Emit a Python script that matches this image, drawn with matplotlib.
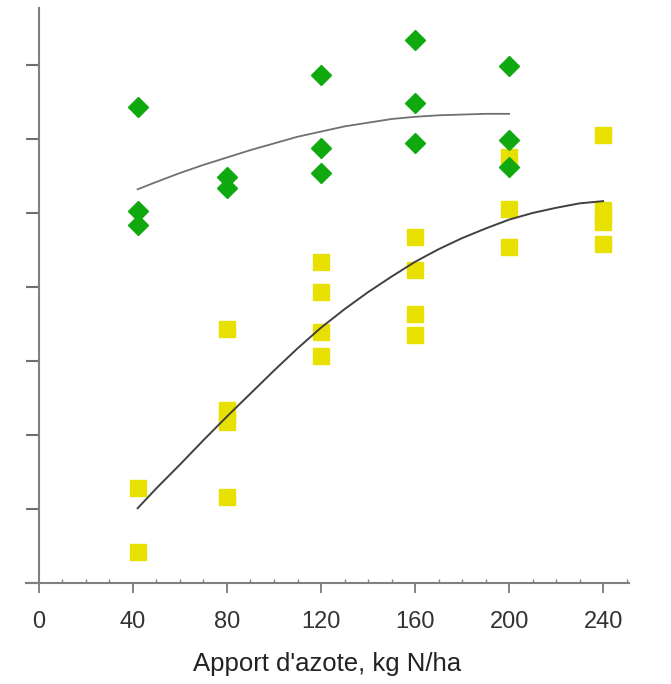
import matplotlib
matplotlib.use("Agg")
import matplotlib.pyplot as plt
from matplotlib.ticker import MultipleLocator, NullFormatter

plt.rcParams['font.family'] = ['Liberation Sans', 'DejaVu Sans']

# Green diamonds (one group per nitrogen rate)
green_x = [42, 42, 42, 80, 80, 120, 120, 120, 160, 160, 160, 200, 200, 200]
green_y = [6.43, 5.03, 4.84, 5.49, 5.34, 6.86, 5.88, 5.54, 7.34, 6.49, 5.95, 6.99, 5.99, 5.62]

# Yellow squares
yellow_x = [42, 42, 80, 80, 80, 80, 120, 120, 120, 120,
            160, 160, 160, 160, 200, 200, 200, 240, 240, 240, 240]
yellow_y = [1.28, 0.42, 3.43, 2.34, 2.18, 1.16, 4.34, 3.93, 3.39, 3.07,
            4.68, 4.23, 3.64, 3.35, 5.76, 5.05, 4.54, 6.05, 5.04, 4.88, 4.58]

# Fitted response curves
green_fit_x = [42, 50, 60, 70, 80, 90, 100, 110, 120, 130, 140, 150, 160, 170, 180, 190, 200]
green_fit_y = [5.32, 5.42, 5.54, 5.65, 5.75, 5.85, 5.94, 6.03, 6.10, 6.17, 6.22, 6.27,
               6.30, 6.32, 6.33, 6.34, 6.34]
yellow_fit_x = [42, 50, 60, 70, 80, 90, 100, 110, 120, 130, 140, 150, 160, 170, 180,
                190, 200, 210, 220, 230, 240]
yellow_fit_y = [1.01, 1.28, 1.60, 1.93, 2.25, 2.56, 2.87, 3.17, 3.45, 3.70, 3.93, 4.14,
                4.34, 4.51, 4.66, 4.79, 4.91, 5.00, 5.07, 5.13, 5.16]

xticks = [0, 40, 80, 120, 160, 200, 240]
xlabel = "Apport d'azote, kg N/ha"

fig = plt.figure(figsize=(6.71, 6.84), dpi=100)
ax = fig.add_axes([0.0387, 0.1477, 0.8987, 0.8406])

ax.plot(yellow_x, yellow_y, linestyle='none', marker='s', markersize=12,
        color='#e8e000', markeredgecolor='#e8e000', zorder=2)
ax.plot(green_x, green_y, linestyle='none', marker='D', markersize=10,
        color='#10aa10', markeredgecolor='#10aa10', zorder=3)
ax.plot(green_fit_x, green_fit_y, color='#707070', linewidth=1.3, zorder=4)
ax.plot(yellow_fit_x, yellow_fit_y, color='#404040', linewidth=1.4, zorder=4)

ax.set_xlim(-5.5, 251)
ax.set_ylim(0, 7.77)

for side in ['top', 'right']:
    ax.spines[side].set_visible(False)
ax.spines['left'].set_position(('data', 0))
for side in ['left', 'bottom']:
    ax.spines[side].set_color('#808080')
    ax.spines[side].set_linewidth(1.5)

ax.set_xticks(xticks)
ax.xaxis.set_minor_locator(MultipleLocator(10))
ax.set_yticks(range(0, 8))
ax.yaxis.set_major_formatter(NullFormatter())
ax.tick_params(axis='x', which='major', direction='out', length=7, width=1.2,
               color='#707070', labelsize=17, labelcolor='#333333', pad=13)
ax.tick_params(axis='x', which='minor', direction='in', length=3, width=1,
               color='#808080')
ax.tick_params(axis='y', which='major', direction='out', length=9.5, width=1.5,
               color='#707070')

ax.set_xlabel(xlabel, fontsize=18.5, color='#222222', labelpad=14)

fig.savefig("out.png", dpi=100)
